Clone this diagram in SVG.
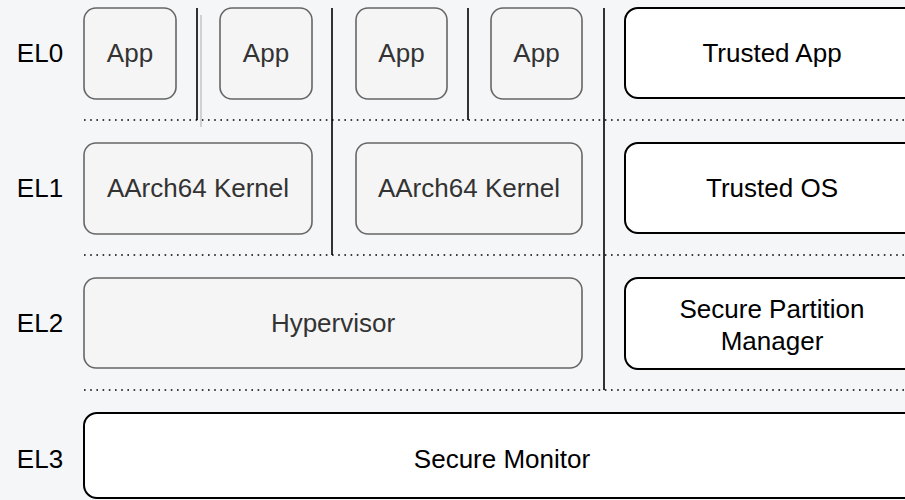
<svg xmlns="http://www.w3.org/2000/svg" width="905" height="500" viewBox="0 0 905 500">
<style>
text{font-family:"Liberation Sans",Arial,sans-serif;font-size:26px;text-anchor:middle}
.g rect{fill:#f5f5f5;stroke:#666;stroke-width:1.6}
.g text{fill:#333}
.s rect{fill:#fff;stroke:#000;stroke-width:2}
.s text{fill:#000}
.lbl{fill:#000}
.dot{stroke:#000;stroke-width:1.6;stroke-dasharray:1.6 4.6;fill:none}
.v{stroke:#000;stroke-width:1.6;fill:none}
</style>
<rect x="0" y="0" width="905" height="500" fill="#f5f6f8"/>
<g id="labels">
<text class="lbl" x="40" y="62">EL0</text>
<text class="lbl" x="40" y="197">EL1</text>
<text class="lbl" x="40" y="332">EL2</text>
<text class="lbl" x="40" y="468">EL3</text>
</g>
<g id="connectors">
<line class="dot" x1="84" y1="120" x2="905" y2="120"/>
<line class="dot" x1="84" y1="255" x2="905" y2="255"/>
<line class="dot" x1="84" y1="390" x2="905" y2="390"/>
<line x1="201" y1="15" x2="201" y2="127" stroke="#c8c8c8" stroke-width="1.6"/>
<line class="v" x1="197" y1="8" x2="197" y2="120"/>
<line class="v" x1="332" y1="8" x2="332" y2="255"/>
<line class="v" x1="468" y1="8" x2="468" y2="120"/>
<line class="v" x1="604" y1="8" x2="604" y2="390"/>
</g>
<g id="app1" class="g"><rect x="84" y="8" width="92" height="91" rx="12"/><text x="130" y="62">App</text></g>
<g id="app2" class="g"><rect x="220" y="8" width="92" height="91" rx="12"/><text x="266" y="62">App</text></g>
<g id="app3" class="g"><rect x="356" y="8" width="91" height="91" rx="12"/><text x="401.5" y="62">App</text></g>
<g id="app4" class="g"><rect x="491" y="8" width="91" height="91" rx="12"/><text x="536.5" y="62">App</text></g>
<g id="trusted-app" class="s"><rect x="625" y="8" width="330" height="90" rx="13"/><text x="772" y="62">Trusted App</text></g>
<g id="kernel1" class="g"><rect x="84" y="143" width="228" height="91" rx="12"/><text x="198" y="197">AArch64 Kernel</text></g>
<g id="kernel2" class="g"><rect x="356" y="143" width="226" height="91" rx="12"/><text x="469" y="197">AArch64 Kernel</text></g>
<g id="trusted-os" class="s"><rect x="625" y="143" width="330" height="90" rx="13"/><text x="772" y="197">Trusted OS</text></g>
<g id="hypervisor" class="g"><rect x="84" y="278" width="498" height="90" rx="12"/><text x="333" y="332">Hypervisor</text></g>
<g id="spm" class="s"><rect x="625" y="278" width="330" height="91" rx="13"/><text x="772" y="318">Secure Partition</text><text x="772" y="350">Manager</text></g>
<g id="secure-monitor" class="s"><rect x="84" y="413" width="880" height="85" rx="13"/><text x="502" y="468">Secure Monitor</text></g>
</svg>
